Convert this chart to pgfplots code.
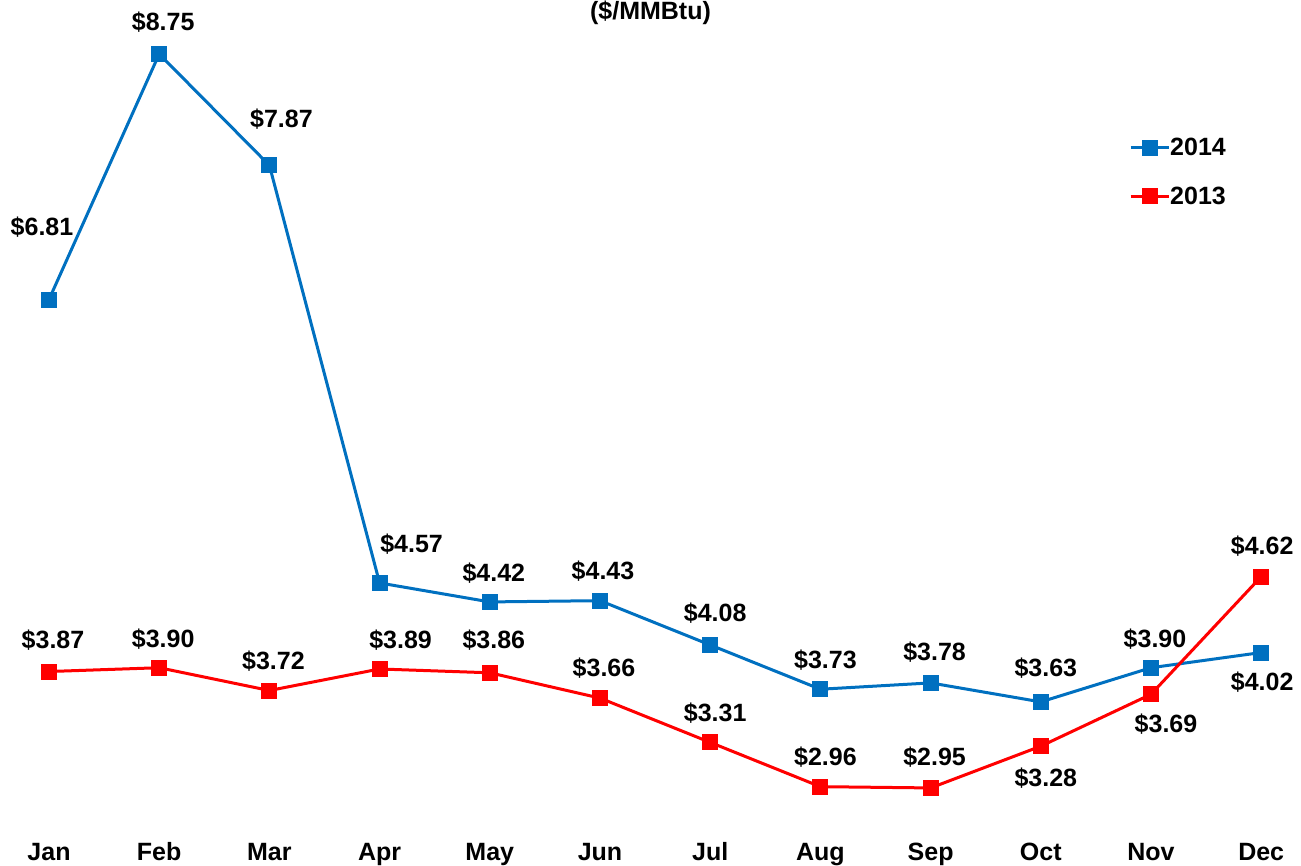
\documentclass[border=0pt]{standalone}
\usepackage{fontspec}
\setmainfont{Liberation Sans}
\usepackage{pgfplots}
\pgfplotsset{compat=1.18}

\definecolor{blue14}{RGB}{0,112,192}
\definecolor{red13}{RGB}{255,0,0}

% label at a data point, shifted in pixels (1px = 1pt)
\newcommand{\lab}[5]{\node[font=\fontsize{25}{30}\selectfont\bfseries, inner sep=0pt, anchor=center, xshift=#3pt, yshift=#4pt] at (axis cs:#1,#2) {\$#5};}

\begin{document}
\begin{tikzpicture}
\begin{axis}[
    at={(0,0)}, anchor=south west,
    scale only axis,
    width=1301pt, height=865pt,
    xmin=-0.4446, xmax=11.361,
    ymin=2.341, ymax=9.177,
    axis line style={draw=none},
    tick style={draw=none},
    ytick=\empty,
    xtick={0,...,11},
    xticklabels={Jan,Feb,Mar,Apr,May,Jun,Jul,Aug,Sep,Oct,Nov,Dec},
    x tick label style={font=\fontsize{25}{30}\selectfont\bfseries, anchor=base, yshift=5pt},
    clip=false,
    legend image code/.code={
        \draw[mark repeat=2,mark phase=2,#1] plot coordinates {(0pt,0pt) (19pt,0pt) (38pt,0pt)};
    },
    legend style={
        at={(1129pt,693pt)}, anchor=west,
        draw=none, fill=none,
        font=\fontsize{25}{30}\selectfont\bfseries,
        inner sep=0pt, row sep=30pt,
        nodes={inner sep=0pt},
        /tikz/every even column/.append style={column sep=4pt},
    },
    legend cell align=left,
]
\addplot[blue14, line width=3pt, mark=square*, mark size=6.5pt, mark options={solid}]
    coordinates {(0,6.81) (1,8.75) (2,7.87) (3,4.57) (4,4.42) (5,4.43) (6,4.08) (7,3.73) (8,3.78) (9,3.63) (10,3.90) (11,4.02)};
\addlegendentry{2014}
\addplot[red13, line width=3pt, mark=square*, mark size=6.5pt, mark options={solid}]
    coordinates {(0,3.87) (1,3.90) (2,3.72) (3,3.89) (4,3.86) (5,3.66) (6,3.31) (7,2.96) (8,2.95) (9,3.28) (10,3.69) (11,4.62)};
\addlegendentry{2013}

% 2014 labels
\lab{0}{6.81}{-7}{72}{6.81}
\lab{1}{8.75}{4}{32}{8.75}
\lab{2}{7.87}{12}{46}{7.87}
\lab{3}{4.57}{32}{39}{4.57}
\lab{4}{4.42}{4}{29}{4.42}
\lab{5}{4.43}{3}{30}{4.43}
\lab{6}{4.08}{5}{32}{4.08}
\lab{7}{3.73}{5}{29}{3.73}
\lab{8}{3.78}{4}{31}{3.78}
\lab{9}{3.63}{5}{34}{3.63}
\lab{10}{3.90}{4}{29}{3.90}
\lab{11}{4.02}{1}{-30}{4.02}
% 2013 labels
\lab{0}{3.87}{4}{31}{3.87}
\lab{1}{3.90}{4}{29}{3.90}
\lab{2}{3.72}{4}{29}{3.72}
\lab{3}{3.89}{21}{29}{3.89}
\lab{4}{3.86}{4}{33}{3.86}
\lab{5}{3.66}{4}{30}{3.66}
\lab{6}{3.31}{5}{29}{3.31}
\lab{7}{2.96}{5}{30}{2.96}
\lab{8}{2.95}{4}{31}{2.95}
\lab{9}{3.28}{5}{-32}{3.28}
\lab{10}{3.69}{15}{-30}{3.69}
\lab{11}{4.62}{1}{30}{4.62}

\node[font=\fontsize{25}{30}\selectfont\bfseries, inner sep=0pt, anchor=center] at (rel axis cs:0.5,0.985) {(\$/MMBtu)};
\end{axis}
\pgfresetboundingbox
\path (0,0) rectangle (1301pt,865pt);
\end{tikzpicture}
\end{document}
